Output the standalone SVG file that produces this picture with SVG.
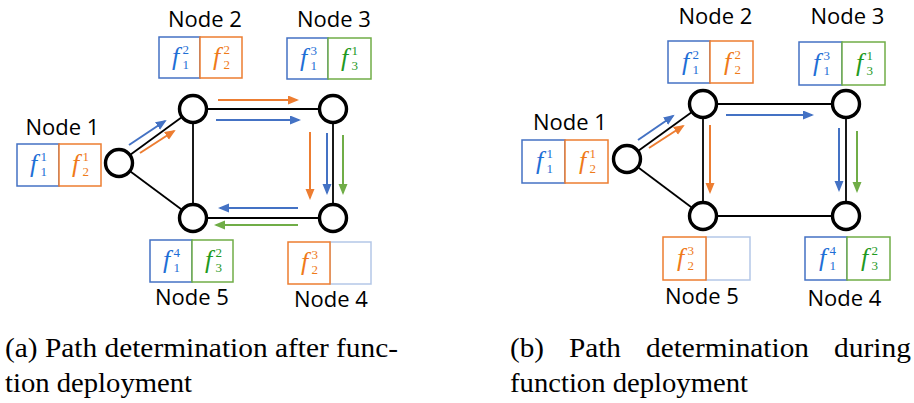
<svg xmlns="http://www.w3.org/2000/svg" width="914" height="403" viewBox="0 0 914 403">
<style>
.edge{stroke:#000;stroke-width:1.8;fill:none}
.nd{fill:#fff;stroke:#000;stroke-width:3.4}
.lbl{font-family:"Open Sans","Noto Sans",sans-serif;font-size:22px;fill:#000;text-anchor:middle}
.cb{fill:#fff;stroke:#4472C4;stroke-width:1.5}
.co{fill:#fff;stroke:#ED7D31;stroke-width:1.5}
.cg{fill:#fff;stroke:#70AD47;stroke-width:1.5}
.ce{fill:#fff;stroke:#B4C7E7;stroke-width:1.5}
.m{font-family:"Liberation Serif","DejaVu Serif",serif}
.f{font-style:italic;font-size:26px}
.s{font-style:normal;font-size:13px}
.tb{fill:#1f6fd6}.to{fill:#ef7a1a}.tg{fill:#1f9a1f}
.ab{stroke:#4472C4;stroke-width:2;fill:none;marker-end:url(#hb)}
.ao{stroke:#ED7D31;stroke-width:2;fill:none;marker-end:url(#ho)}
.ag{stroke:#70AD47;stroke-width:2;fill:none;marker-end:url(#hg)}
.cap{font-family:"Liberation Serif","DejaVu Serif",serif;font-size:27px;fill:#000}
</style>
<defs>
<marker id="hb" markerUnits="userSpaceOnUse" markerWidth="12" markerHeight="10" refX="9" refY="4.5" orient="auto"><path d="M0,0 L11,4.5 L0,9 z" fill="#4472C4"/></marker>
<marker id="ho" markerUnits="userSpaceOnUse" markerWidth="12" markerHeight="10" refX="9" refY="4.5" orient="auto"><path d="M0,0 L11,4.5 L0,9 z" fill="#ED7D31"/></marker>
<marker id="hg" markerUnits="userSpaceOnUse" markerWidth="12" markerHeight="10" refX="9" refY="4.5" orient="auto"><path d="M0,0 L11,4.5 L0,9 z" fill="#70AD47"/></marker>
</defs>
<rect width="914" height="403" fill="#fff"/>

<g id="connectors">
  <line class="edge" x1="119" y1="163" x2="193" y2="109"/>
  <line class="edge" x1="119" y1="163" x2="193" y2="218"/>
  <line class="edge" x1="193" y1="109" x2="333" y2="109"/>
  <line class="edge" x1="193" y1="109" x2="193" y2="218"/>
  <line class="edge" x1="333" y1="109" x2="333" y2="218"/>
  <line class="edge" x1="193" y1="218" x2="333" y2="218"/>
  <line class="ab" x1="129" y1="145" x2="165" y2="121"/>
  <line class="ao" x1="140" y1="153" x2="174" y2="131"/>
  <line class="ao" x1="218" y1="100" x2="297" y2="100"/>
  <line class="ab" x1="216" y1="120" x2="299" y2="120"/>
  <line class="ao" x1="310" y1="132" x2="310" y2="198"/>
  <line class="ab" x1="327" y1="133" x2="327" y2="193"/>
  <line class="ag" x1="343" y1="135" x2="343" y2="193"/>
  <line class="ab" x1="298" y1="208" x2="220" y2="208"/>
  <line class="ag" x1="298" y1="225" x2="216" y2="225"/>
  <line class="edge" x1="627" y1="159" x2="703" y2="104"/>
  <line class="edge" x1="627" y1="159" x2="703" y2="216"/>
  <line class="edge" x1="703" y1="104" x2="846" y2="104"/>
  <line class="edge" x1="703" y1="104" x2="703" y2="216"/>
  <line class="edge" x1="846" y1="104" x2="846" y2="216"/>
  <line class="edge" x1="703" y1="216" x2="846" y2="216"/>
  <line class="ab" x1="638" y1="140" x2="673" y2="116"/>
  <line class="ao" x1="649" y1="148" x2="683" y2="126"/>
  <line class="ab" x1="726" y1="115" x2="812" y2="115"/>
  <line class="ao" x1="710" y1="125" x2="710" y2="192"/>
  <line class="ab" x1="839" y1="128" x2="839" y2="190"/>
  <line class="ag" x1="857" y1="131" x2="857" y2="191"/>
</g>

<!-- LEFT PANEL NODES -->
<g id="a-node1">
  <circle class="nd" cx="119" cy="163" r="13.5"/>
  <text class="lbl" x="62.5" y="135">Node 1</text>
  <g transform="translate(17,144)"><rect class="cb" width="42" height="42"/><text class="m tb" x="13" y="28"><tspan class="f">f</tspan><tspan class="s" x="23.5" y="17">1</tspan><tspan class="s" x="23.5" y="31.5">1</tspan></text></g>
  <g transform="translate(59,144)"><rect class="co" width="42" height="42"/><text class="m to" x="13" y="28"><tspan class="f">f</tspan><tspan class="s" x="23.5" y="17">1</tspan><tspan class="s" x="23.5" y="31.5">2</tspan></text></g>
</g>
<g id="a-node2">
  <circle class="nd" cx="193" cy="109" r="13.5"/>
  <text class="lbl" x="205" y="27">Node 2</text>
  <g transform="translate(159,37)"><rect class="cb" width="41" height="41"/><text class="m tb" x="13" y="28"><tspan class="f">f</tspan><tspan class="s" x="23.5" y="17">2</tspan><tspan class="s" x="23.5" y="31.5">1</tspan></text></g>
  <g transform="translate(200,37)"><rect class="co" width="42" height="41"/><text class="m to" x="13" y="28"><tspan class="f">f</tspan><tspan class="s" x="23.5" y="17">2</tspan><tspan class="s" x="23.5" y="31.5">2</tspan></text></g>
</g>
<g id="a-node3">
  <circle class="nd" cx="333" cy="109" r="13.5"/>
  <text class="lbl" x="334" y="27">Node 3</text>
  <g transform="translate(287,38)"><rect class="cb" width="41" height="41"/><text class="m tb" x="13" y="28"><tspan class="f">f</tspan><tspan class="s" x="23.5" y="17">3</tspan><tspan class="s" x="23.5" y="31.5">1</tspan></text></g>
  <g transform="translate(328,38)"><rect class="cg" width="43" height="41"/><text class="m tg" x="13" y="28"><tspan class="f">f</tspan><tspan class="s" x="23.5" y="17">1</tspan><tspan class="s" x="23.5" y="31.5">3</tspan></text></g>
</g>
<g id="a-node4">
  <circle class="nd" cx="333" cy="218" r="13.5"/>
  <text class="lbl" x="331" y="307">Node 4</text>
  <g transform="translate(330,242)"><rect class="ce" width="41" height="42"/></g>
  <g transform="translate(288,242)"><rect class="co" width="42" height="42"/><text class="m to" x="13" y="28"><tspan class="f">f</tspan><tspan class="s" x="23.5" y="17">3</tspan><tspan class="s" x="23.5" y="31.5">2</tspan></text></g>
</g>
<g id="a-node5">
  <circle class="nd" cx="193" cy="218" r="13.5"/>
  <text class="lbl" x="192" y="305">Node 5</text>
  <g transform="translate(150,240)"><rect class="cb" width="42" height="42"/><text class="m tb" x="13" y="28"><tspan class="f">f</tspan><tspan class="s" x="23.5" y="17">4</tspan><tspan class="s" x="23.5" y="31.5">1</tspan></text></g>
  <g transform="translate(192,240)"><rect class="cg" width="41" height="42"/><text class="m tg" x="13" y="28"><tspan class="f">f</tspan><tspan class="s" x="23.5" y="17">2</tspan><tspan class="s" x="23.5" y="31.5">3</tspan></text></g>
</g>

<!-- RIGHT PANEL NODES -->
<g id="b-node1">
  <circle class="nd" cx="627" cy="159" r="13.5"/>
  <text class="lbl" x="570" y="130">Node 1</text>
  <g transform="translate(522,140)"><rect class="cb" width="43" height="43"/><text class="m tb" x="14" y="29"><tspan class="f">f</tspan><tspan class="s" x="24.5" y="18">1</tspan><tspan class="s" x="24.5" y="32.5">1</tspan></text></g>
  <g transform="translate(565,140)"><rect class="co" width="43" height="43"/><text class="m to" x="14" y="29"><tspan class="f">f</tspan><tspan class="s" x="24.5" y="18">1</tspan><tspan class="s" x="24.5" y="32.5">2</tspan></text></g>
</g>
<g id="b-node2">
  <circle class="nd" cx="703" cy="104" r="13.5"/>
  <text class="lbl" x="715.5" y="24">Node 2</text>
  <g transform="translate(668,41)"><rect class="cb" width="42" height="42"/><text class="m tb" x="14" y="29"><tspan class="f">f</tspan><tspan class="s" x="24.5" y="18">2</tspan><tspan class="s" x="24.5" y="32.5">1</tspan></text></g>
  <g transform="translate(710,41)"><rect class="co" width="43" height="42"/><text class="m to" x="14" y="29"><tspan class="f">f</tspan><tspan class="s" x="24.5" y="18">2</tspan><tspan class="s" x="24.5" y="32.5">2</tspan></text></g>
</g>
<g id="b-node3">
  <circle class="nd" cx="846" cy="104" r="13.5"/>
  <text class="lbl" x="847.5" y="24">Node 3</text>
  <g transform="translate(799,42)"><rect class="cb" width="43" height="43"/><text class="m tb" x="14" y="29"><tspan class="f">f</tspan><tspan class="s" x="24.5" y="18">3</tspan><tspan class="s" x="24.5" y="32.5">1</tspan></text></g>
  <g transform="translate(842,42)"><rect class="cg" width="43" height="43"/><text class="m tg" x="14" y="29"><tspan class="f">f</tspan><tspan class="s" x="24.5" y="18">1</tspan><tspan class="s" x="24.5" y="32.5">3</tspan></text></g>
</g>
<g id="b-node4">
  <circle class="nd" cx="846" cy="216" r="13.5"/>
  <text class="lbl" x="844.5" y="306">Node 4</text>
  <g transform="translate(805,237)"><rect class="cb" width="42" height="43"/><text class="m tb" x="14" y="29"><tspan class="f">f</tspan><tspan class="s" x="24.5" y="18">4</tspan><tspan class="s" x="24.5" y="32.5">1</tspan></text></g>
  <g transform="translate(847,237)"><rect class="cg" width="43" height="43"/><text class="m tg" x="14" y="29"><tspan class="f">f</tspan><tspan class="s" x="24.5" y="18">2</tspan><tspan class="s" x="24.5" y="32.5">3</tspan></text></g>
</g>
<g id="b-node5">
  <circle class="nd" cx="703" cy="216" r="13.5"/>
  <text class="lbl" x="702" y="304">Node 5</text>
  <g transform="translate(706,237)"><rect class="ce" width="44" height="43"/></g>
  <g transform="translate(663,237)"><rect class="co" width="43" height="43"/><text class="m to" x="14" y="29"><tspan class="f">f</tspan><tspan class="s" x="24.5" y="18">3</tspan><tspan class="s" x="24.5" y="32.5">2</tspan></text></g>
</g>

<g id="captions">
  <text class="cap" x="5" y="357" textLength="393" lengthAdjust="spacingAndGlyphs">(a) Path determination after func-</text>
  <text class="cap" x="5" y="392" textLength="187" lengthAdjust="spacingAndGlyphs">tion deployment</text>
  <text class="cap" x="510" y="357" textLength="34" lengthAdjust="spacingAndGlyphs">(b)</text>
  <text class="cap" x="569" y="357" textLength="52" lengthAdjust="spacingAndGlyphs">Path</text>
  <text class="cap" x="646" y="357" textLength="163" lengthAdjust="spacingAndGlyphs">determination</text>
  <text class="cap" x="834" y="357" textLength="77" lengthAdjust="spacingAndGlyphs">during</text>
  <text class="cap" x="510" y="392" textLength="238" lengthAdjust="spacingAndGlyphs">function deployment</text>
</g>
</svg>
